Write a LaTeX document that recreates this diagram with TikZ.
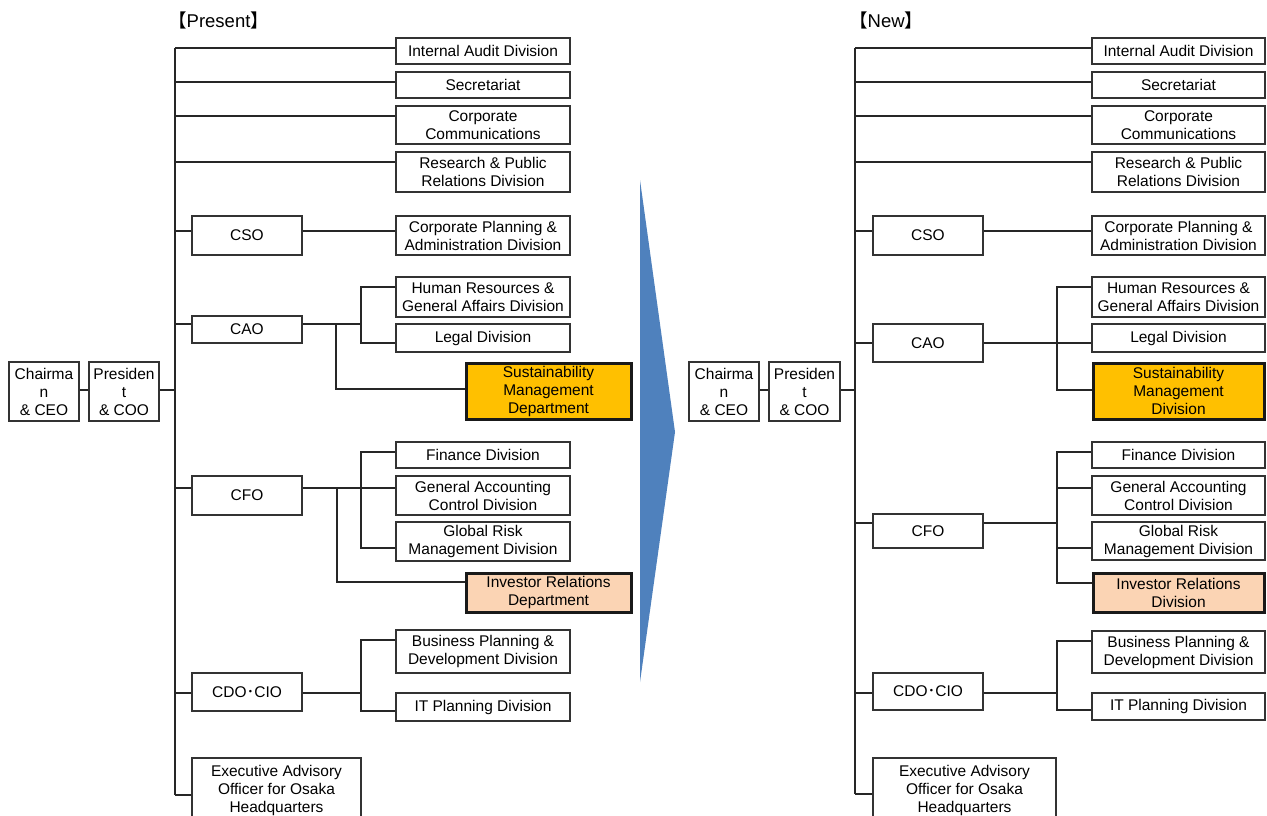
\documentclass[tikz,border=0pt]{standalone}
\usepackage{fontspec}
\setmainfont{Liberation Sans}
\newfontfamily\cjk{Noto Sans CJK JP}
\definecolor{sus}{HTML}{FFC000}
\definecolor{irc}{HTML}{FBD4B4}
\definecolor{arr}{HTML}{4F81BD}
\tikzset{
 box/.style={draw=black!80, line width=1.4pt, inner sep=0pt, align=center, font=\fontsize{15.5}{18}\selectfont, text=black},
 hl/.style={line width=3pt, draw=black!90},
 conn/.style={draw=black!85, line width=1.6pt},
 ttl/.style={anchor=west, inner sep=0pt, font=\fontsize{18.5}{20}\selectfont},
}
\newcommand\bx[7]{\node[box,#6,minimum width={(#4)-(#2)},minimum height={(#5)-(#3)}] (#1) at ({((#2)+(#4))/2},{((#3)+(#5))/2}) {#7};}
\begin{document}
\begin{tikzpicture}[x=1pt,y=-1pt]
\clip (0,0) rectangle (1267,816);
\fill[white] (0,0) rectangle (1267,816);
% titles
\node[ttl] (Ltitle) at (168,20) {{\cjk 【}Present{\cjk 】}};
\node[ttl] (Rtitle) at (849,20) {{\cjk 【}New{\cjk 】}};
% arrow
\fill[arr] (640,180) -- (675,432) -- (640,682) -- cycle;

% ================= LEFT =================
\bx{Lia}{396}{38}{570}{64}{}{Internal Audit Division}
\bx{Lsec}{396}{72}{570}{98}{}{Secretariat}
\bx{Lcc}{396}{106}{570}{144}{}{Corporate\\Communications}
\bx{Lrp}{396}{152}{570}{192}{}{Research \& Public\\Relations Division}
\bx{Lcso}{192}{216}{302}{255}{}{CSO}
\bx{Lcpa}{396}{216}{570}{255}{}{Corporate Planning \&\\Administration Division}
\bx{Lhr}{396}{277}{570}{317}{}{Human Resources \&\\General Affairs Division}
\bx{Lcao}{192}{316}{302}{343}{}{CAO}
\bx{Llegal}{396}{324}{570}{352}{}{Legal Division}
\bx{Lsmd}{466}{363}{631}{419}{hl,fill=sus}{Sustainability\\Management\\Department}
\bx{Lchair}{9}{362}{79}{421}{}{Chairma\\n\\\& CEO}
\bx{Lpres}{89}{362}{159}{421}{}{Presiden\\t\\\& COO}
\bx{Lfin}{396}{442}{570}{468}{}{Finance Division}
\bx{Lcfo}{192}{476}{302}{515}{}{CFO}
\bx{Lgac}{396}{476}{570}{515}{}{General Accounting\\Control Division}
\bx{Lgrm}{396}{522}{570}{561}{}{Global Risk\\Management Division}
\bx{Lir}{466}{573}{631}{612}{hl,fill=irc}{Investor Relations\\Department}
\bx{Lbpd}{396}{630}{570}{673}{}{Business Planning \&\\Development Division}
\bx{Lcdo}{192}{673}{302}{711}{}{CDO{\cjk ･}CIO}
\bx{Litp}{396}{693}{570}{721}{}{IT Planning Division}
\bx{Lexec}{192}{758}{361}{822}{}{Executive Advisory\\Officer for Osaka\\Headquarters}

\coordinate (Lb0) at (175,48);
\coordinate (Lbend) at (175,795);
\draw[conn] (Lb0) -- (Lbend);
\draw[conn] (Lb0) -- (Lb0 -| Lia.west);
\coordinate (Lb2) at (175,82);  \draw[conn] (Lb2) -- (Lb2 -| Lsec.west);
\coordinate (Lb3) at (175,116); \draw[conn] (Lb3) -- (Lb3 -| Lcc.west);
\coordinate (Lb4) at (175,162); \draw[conn] (Lb4) -- (Lb4 -| Lrp.west);
\coordinate (Lb5) at (175,231); \draw[conn] (Lb5) -- (Lb5 -| Lcso.west);
\draw[conn] (Lcso.east |- Lb5) -- (Lb5 -| Lcpa.west);
% CAO
\coordinate (Lb6) at (175,324); \draw[conn] (Lb6) -- (Lb6 -| Lcao.west);
\coordinate (Lcaoj) at (336,324); \coordinate (Lcaok) at (361,324);
\draw[conn] (Lcao.east |- Lcaoj) -- (Lcaok);
\coordinate (Lhrk) at (361,287); \coordinate (Llgk) at (361,343);
\draw[conn] (Lhrk -| Lhr.west) -- (Lhrk) -- (Llgk) -- (Llgk -| Llegal.west);
\coordinate (Lsmk) at (336,389);
\draw[conn] (Lcaoj) -- (Lsmk) -- (Lsmk -| Lsmd.west);
% chairman / president
\coordinate (Lb7) at (175,390);
\draw[conn] (Lpres.east |- Lb7) -- (Lb7);
\draw[conn] (Lchair.east |- Lb7) -- (Lpres.west |- Lb7);
% CFO
\coordinate (Lb8) at (175,488); \draw[conn] (Lb8) -- (Lb8 -| Lcfo.west);
\coordinate (Lcfoj) at (337,488);
\draw[conn] (Lcfo.east |- Lb8) -- (Lb8 -| Lgac.west);
\coordinate (Lfink) at (361,452); \coordinate (Lgrmk) at (361,548);
\draw[conn] (Lfink -| Lfin.west) -- (Lfink) -- (Lgrmk) -- (Lgrmk -| Lgrm.west);
\coordinate (Lirk) at (337,582);
\draw[conn] (Lcfoj) -- (Lirk) -- (Lirk -| Lir.west);
% CDO
\coordinate (Lb9) at (175,693); \draw[conn] (Lb9) -- (Lb9 -| Lcdo.west);
\coordinate (Lcdok) at (361,693);
\draw[conn] (Lcdo.east |- Lb9) -- (Lcdok);
\coordinate (Lbpk) at (361,640); \coordinate (Litk) at (361,711);
\draw[conn] (Lbpk -| Lbpd.west) -- (Lbpk) -- (Litk) -- (Litk -| Litp.west);
% exec
\draw[conn] (Lbend) -- (Lbend -| Lexec.west);

% ================= RIGHT =================
\bx{Ria}{1092}{38}{1265}{64}{}{Internal Audit Division}
\bx{Rsec}{1092}{72}{1265}{98}{}{Secretariat}
\bx{Rcc}{1092}{106}{1265}{144}{}{Corporate\\Communications}
\bx{Rrp}{1092}{152}{1265}{192}{}{Research \& Public\\Relations Division}
\bx{Rcso}{873}{216}{983}{255}{}{CSO}
\bx{Rcpa}{1092}{216}{1265}{255}{}{Corporate Planning \&\\Administration Division}
\bx{Rhr}{1092}{277}{1265}{317}{}{Human Resources \&\\General Affairs Division}
\bx{Rcao}{873}{324}{983}{362}{}{CAO}
\bx{Rlegal}{1092}{324}{1265}{352}{}{Legal Division}
\bx{Rsmd}{1093}{363}{1264}{419}{hl,fill=sus}{Sustainability\\Management\\Division}
\bx{Rchair}{689}{362}{759}{421}{}{Chairma\\n\\\& CEO}
\bx{Rpres}{769}{362}{840}{421}{}{Presiden\\t\\\& COO}
\bx{Rfin}{1092}{442}{1265}{468}{}{Finance Division}
\bx{Rgac}{1092}{476}{1265}{515}{}{General Accounting\\Control Division}
\bx{Rcfo}{873}{514}{983}{548}{}{CFO}
\bx{Rgrm}{1092}{522}{1265}{560}{}{Global Risk\\Management Division}
\bx{Rir}{1093}{573}{1264}{612}{hl,fill=irc}{Investor Relations\\Division}
\bx{Rbpd}{1092}{631}{1265}{673}{}{Business Planning \&\\Development Division}
\bx{Rcdo}{873}{673}{983}{710}{}{CDO{\cjk ･}CIO}
\bx{Ritp}{1092}{693}{1265}{720}{}{IT Planning Division}
\bx{Rexec}{873}{758}{1056}{822}{}{Executive Advisory\\Officer for Osaka\\Headquarters}

\coordinate (Rb0) at (855,48);
\coordinate (Rbend) at (855,794);
\draw[conn] (Rb0) -- (Rbend);
\draw[conn] (Rb0) -- (Rb0 -| Ria.west);
\coordinate (Rb2) at (855,82);  \draw[conn] (Rb2) -- (Rb2 -| Rsec.west);
\coordinate (Rb3) at (855,116); \draw[conn] (Rb3) -- (Rb3 -| Rcc.west);
\coordinate (Rb4) at (855,162); \draw[conn] (Rb4) -- (Rb4 -| Rrp.west);
\coordinate (Rb5) at (855,231); \draw[conn] (Rb5) -- (Rb5 -| Rcso.west);
\draw[conn] (Rcso.east |- Rb5) -- (Rb5 -| Rcpa.west);
% CAO
\coordinate (Rb6) at (855,343); \draw[conn] (Rb6) -- (Rb6 -| Rcao.west);
\coordinate (Rcaok) at (1057,343);
\draw[conn] (Rcao.east |- Rcaok) -- (Rcaok -| Rlegal.west);
\coordinate (Rhrk) at (1057,287); \coordinate (Rsmk) at (1057,390);
\draw[conn] (Rhrk -| Rhr.west) -- (Rhrk) -- (Rsmk) -- (Rsmk -| Rsmd.west);
% chairman / president
\coordinate (Rb7) at (855,390);
\draw[conn] (Rpres.east |- Rb7) -- (Rb7);
\draw[conn] (Rchair.east |- Rb7) -- (Rpres.west |- Rb7);
% CFO
\coordinate (Rb8) at (855,523); \draw[conn] (Rb8) -- (Rb8 -| Rcfo.west);
\coordinate (Rcfok) at (1057,523);
\draw[conn] (Rcfo.east |- Rcfok) -- (Rcfok);
\coordinate (Rfink) at (1057,452); \coordinate (Rgack) at (1057,488);
\coordinate (Rgrmk) at (1057,548); \coordinate (Rirk) at (1057,583);
\draw[conn] (Rfink -| Rfin.west) -- (Rfink) -- (Rirk) -- (Rirk -| Rir.west);
\draw[conn] (Rgack) -- (Rgack -| Rgac.west);
\draw[conn] (Rgrmk) -- (Rgrmk -| Rgrm.west);
% CDO
\coordinate (Rb9) at (855,693); \draw[conn] (Rb9) -- (Rb9 -| Rcdo.west);
\coordinate (Rcdok) at (1057,693);
\draw[conn] (Rcdo.east |- Rb9) -- (Rcdok);
\coordinate (Rbpk) at (1057,641); \coordinate (Ritk) at (1057,710);
\draw[conn] (Rbpk -| Rbpd.west) -- (Rbpk) -- (Ritk) -- (Ritk -| Ritp.west);
% exec
\draw[conn] (Rbend) -- (Rbend -| Rexec.west);
\end{tikzpicture}
\end{document}
